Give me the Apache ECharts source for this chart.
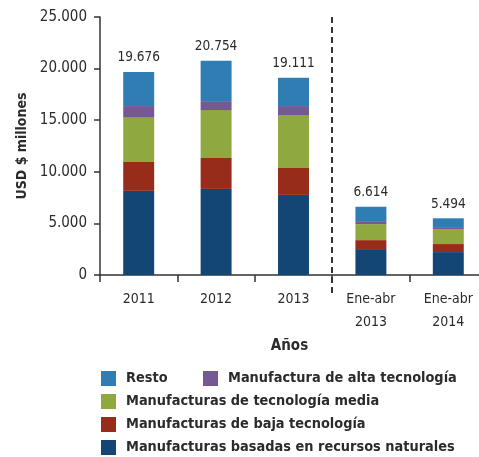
<!DOCTYPE html>
<html>
<head>
<meta charset="utf-8">
<script src="https://cdn.jsdelivr.net/npm/echarts@6/dist/echarts.min.js"></script>
<style>
  html, body { margin: 0; padding: 0; background: #fff; }
  #chart { width: 479px; height: 457px; }
</style>
</head>
<body>
<div id="chart"></div>
<script>
// categorías (años) y series apiladas, en USD millones
const categories = ['2011', '2012', '2013', 'Ene-abr\n2013', 'Ene-abr\n2014']
const recursosNaturales = [8150, 8340, 7760, 2510, 2220]
const bajaTecnologia = [2800, 3000, 2610, 870, 780]
const tecnologiaMedia = [4350, 4640, 5130, 1550, 1450]
const altaTecnologia = [1070, 870, 870, 290, 190]
const resto = [3306, 3904, 2741, 1394, 854]
const yTicks = [0, 5000, 10000, 15000, 20000, 25000]
// posición del separador (límite entre 2013 y Ene-abr 2013, en unidades de categoría)
const separador = [3]

const FONT = "'Liberation Sans Narrow', 'DejaVu Sans Condensed', sans-serif"
const TEXT = '#2b2b2b'

// 25000 -> "25.000"
const fmt = (v) => String(Math.round(v)).replace(/\B(?=(\d{3})+(?!\d))/g, '.')

const totals = categories.map((_, i) =>
  recursosNaturales[i] + bajaTecnologia[i] + tecnologiaMedia[i] + altaTecnologia[i] + resto[i]
)

const SERIES = {
  type: 'bar',
  stack: 'total',
  barWidth: '40%',
}

const legendItem = (name, left, top) => ({
  data: [name],
  left: left,
  top: top,
  padding: 0,
  itemWidth: 15,
  itemHeight: 15,
  icon: 'rect',
  selectedMode: false,
  textStyle: {
    fontFamily: FONT,
    fontSize: 14.4,
    fontWeight: 'bold',
    color: TEXT,
    padding: [0, 0, 0, 5],
  },
})

const chart = echarts.init(document.getElementById('chart'))

const option = {
  animation: false,
  color: ['#134674', '#982c1a', '#8fa83f', '#745992', '#2f7db3'],
  grid: [
    { left: 100, width: 387, top: 17, height: 258, outerBoundsMode: 'none' },
    // grid auxiliar sólo para la línea punteada (baja un poco por debajo del eje)
    { left: 100, width: 387, top: 15, height: 278, outerBoundsMode: 'none' },
  ],
  legend: [
    legendItem('Resto', 101, 371),
    legendItem('Manufactura de alta tecnología', 203, 371),
    legendItem('Manufacturas de tecnología media', 101, 394),
    legendItem('Manufacturas de baja tecnología', 101, 417),
    legendItem('Manufacturas basadas en recursos naturales', 101, 440),
  ],
  xAxis: [
    {
      type: 'category',
      data: categories,
      name: 'Años',
      nameLocation: 'middle',
      nameGap: 50,
      nameTextStyle: {
        fontFamily: FONT,
        fontSize: 15,
        fontWeight: 'bold',
        color: TEXT,
        padding: [0, 8, 0, 0],
      },
      axisLine: { show: true, lineStyle: { color: '#333', width: 1.5 } },
      axisTick: { show: true, interval: 0, length: 7, lineStyle: { color: '#333', width: 1.5 } },
      axisLabel: {
        interval: 0,
        fontFamily: FONT,
        fontSize: 14,
        color: TEXT,
        margin: 13,
        lineHeight: 23,
      },
      splitLine: { show: false },
    },
    {
      gridIndex: 1,
      type: 'value',
      min: 0,
      max: categories.length,
      show: false,
    },
  ],
  yAxis: [
    {
      type: 'value',
      min: yTicks[0],
      max: yTicks[yTicks.length - 1],
      interval: yTicks[1] - yTicks[0],
      name: 'USD $ millones',
      nameLocation: 'middle',
      nameGap: 69,
      nameTextStyle: {
        fontFamily: FONT,
        fontSize: 14,
        fontWeight: 'bold',
        color: TEXT,
      },
      axisLine: { show: true, lineStyle: { color: '#333', width: 1.5 } },
      axisTick: { show: true, length: 6, lineStyle: { color: '#333', width: 1.5 } },
      axisLabel: {
        fontFamily: FONT,
        fontSize: 15,
        color: TEXT,
        margin: 13,
        formatter: (v) => fmt(v),
      },
      splitLine: { show: false },
    },
    { gridIndex: 1, type: 'value', min: 0, max: 1, show: false },
  ],
  series: [
    { ...SERIES, name: 'Manufacturas basadas en recursos naturales', data: recursosNaturales },
    { ...SERIES, name: 'Manufacturas de baja tecnología', data: bajaTecnologia },
    { ...SERIES, name: 'Manufacturas de tecnología media', data: tecnologiaMedia },
    { ...SERIES, name: 'Manufactura de alta tecnología', data: altaTecnologia },
    {
      ...SERIES,
      name: 'Resto',
      data: resto,
      label: {
        show: true,
        position: 'top',
        distance: 7,
        fontFamily: FONT,
        fontSize: 13.5,
        color: TEXT,
        formatter: ({ dataIndex }) => fmt(totals[dataIndex]),
      },
    },
    {
      type: 'line',
      xAxisIndex: 1,
      yAxisIndex: 1,
      data: [],
      silent: true,
      markLine: {
        symbol: 'none',
        silent: true,
        label: { show: false },
        lineStyle: { color: '#333', width: 2, type: [6, 4] },
        data: separador.map((x) => ({ xAxis: x })),
      },
    },
  ],
}

chart.setOption(option)
</script>
</body>
</html>
